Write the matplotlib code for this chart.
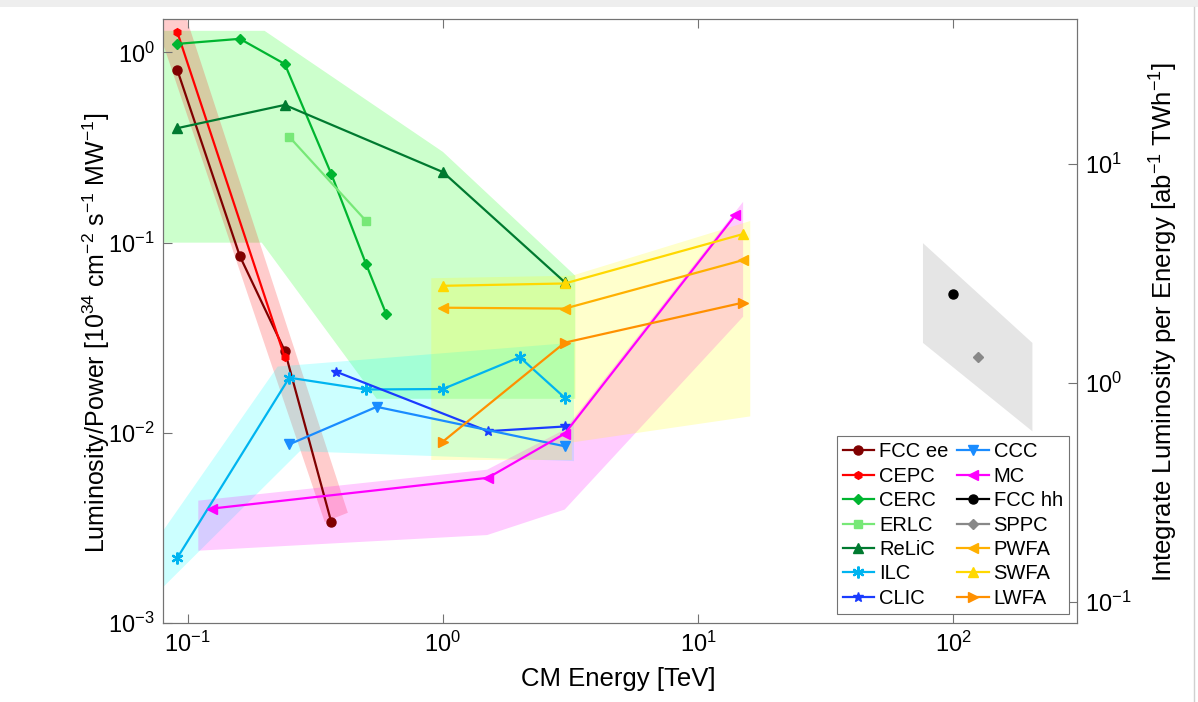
import numpy as np
import matplotlib
matplotlib.use('Agg')
import matplotlib.pyplot as plt
from matplotlib.ticker import NullLocator, LogLocator
from matplotlib.patches import Rectangle
from matplotlib.lines import Line2D

plt.rcParams['font.family'] = ['Liberation Sans', 'DejaVu Sans']
plt.rcParams['mathtext.default'] = 'regular'

# lepton colliders: CM energy [TeV] vs luminosity/power
fccee_e = [0.091, 0.16, 0.24, 0.365]
fccee_l = [0.81, 0.085, 0.027, 0.0034]
cepc_e = [0.091, 0.24]
cepc_l = [1.28, 0.025]
cerc_e = [0.091, 0.16, 0.24, 0.365, 0.5, 0.6]
cerc_l = [1.11, 1.18, 0.87, 0.23, 0.077, 0.042]
erlc_e = [0.25, 0.5]
erlc_l = [0.36, 0.13]
relic_e = [0.091, 0.24, 1.0, 3.0]
relic_l = [0.40, 0.53, 0.235, 0.062]
ilc_e = [0.091, 0.25, 0.5, 1.0, 2.0, 3.0]
ilc_l = [0.0022, 0.0195, 0.0169, 0.017, 0.025, 0.0153]
clic_e = [0.38, 1.5, 3.0]
clic_l = [0.021, 0.0102, 0.0108]
ccc_e = [0.25, 0.55, 3.0]
ccc_l = [0.0087, 0.0137, 0.0085]
mc_e = [0.125, 1.5, 3.0, 14.0]
mc_l = [0.0040, 0.0058, 0.0099, 0.14]
pwfa_e = [1.0, 3.0, 15.0]
pwfa_l = [0.0455, 0.045, 0.081]
swfa_e = [1.0, 3.0, 15.0]
swfa_l = [0.0593, 0.061, 0.111]
lwfa_e = [1.0, 3.0, 15.0]
lwfa_l = [0.009, 0.0298, 0.0484]

# hadron colliders (right axis, integrated luminosity per energy)
fcchh_e = [100.0]
fcchh_l = [2.53]
sppc_e = [125.0]
sppc_l = [1.31]

# shaded regions
band_ee_e = [0.069, 0.0924, 0.424, 0.344]
band_ee_l = [2.0, 2.0, 0.0038, 0.0034]
band_circ_e = [0.07, 0.2, 1.0, 3.3, 3.3, 0.55, 0.195, 0.07]
band_circ_l = [1.3, 1.3, 0.30, 0.067, 0.0151, 0.0151, 0.1, 0.1]
band_lin_e = [0.07, 0.225, 3.26, 3.26, 0.275, 0.07]
band_lin_l = [0.00236, 0.0223, 0.0298, 0.0071, 0.008, 0.00129]
band_mc_e = [0.11, 1.49, 3.0, 15.0, 15.0, 3.0, 1.49, 0.11]
band_mc_l = [0.0044, 0.0064, 0.0104, 0.164, 0.0408, 0.00395, 0.0029, 0.0024]
band_pl_e = [0.9, 3.2, 16.0, 16.0, 3.2, 3.2, 0.9]
band_pl_l = [0.065, 0.067, 0.13, 0.0122, 0.0089, 0.0072, 0.0072]
band_hh_e = [76.0, 204.0, 204.0, 76.0]
band_hh_l = [4.34, 1.52, 0.60, 1.52]

W, H = 1198, 702
fig = plt.figure(figsize=(W / 100, H / 100), dpi=100)
ax = fig.add_axes([163 / W, 1 - 623 / H, 914 / W, 604 / H])
ax.set_xscale('log')
ax.set_yscale('log')
ax.set_xlim(0.08, 305)
ax.set_ylim(1e-3, 1.5)

ax.fill(band_circ_e, band_circ_l, color=(0, 1, 0), alpha=0.2, lw=0, zorder=1)
ax.fill(band_ee_e, band_ee_l, color=(1, 0, 0), alpha=0.2, lw=0, zorder=1)
ax.fill(band_lin_e, band_lin_l, color=(0, 1, 1), alpha=0.2, lw=0, zorder=1)
ax.fill(band_mc_e, band_mc_l, color=(1, 0, 1), alpha=0.2, lw=0, zorder=1)
ax.fill(band_pl_e, band_pl_l, color=(1, 1, 0), alpha=0.2, lw=0, zorder=1)

lw = 1.6
ms = 6.5
asterisk = (6, 2, 0)
handles = []
handles += ax.plot(fccee_e, fccee_l, '-o', color='#800000', lw=lw, ms=ms, label='FCC ee')
handles += ax.plot(cepc_e, cepc_l, '-h', color='#ff0000', lw=lw, ms=5.5, label='CEPC')
handles += ax.plot(cerc_e, cerc_l, '-D', color='#00b530', lw=lw, ms=5.5, label='CERC')
handles += ax.plot(erlc_e, erlc_l, '-s', color='#77e877', lw=lw, ms=5.5, label='ERLC')
handles += ax.plot(relic_e, relic_l, '-^', color='#007a30', lw=lw, ms=ms, label='ReLiC')
handles += ax.plot(ilc_e, ilc_l, '-', marker=asterisk, color='#00b4f0', lw=lw, ms=8.5, mew=1.6, label='ILC')
handles += ax.plot(clic_e, clic_l, '-*', color='#1a3cff', lw=lw, ms=7.5, label='CLIC')
h_ccc = ax.plot(ccc_e, ccc_l, '-v', color='#1a8cff', lw=lw, ms=ms, label='CCC')
h_mc = ax.plot(mc_e, mc_l, '-<', color='#ff00ff', lw=lw, ms=ms, label='MC')
h_pwfa = ax.plot(pwfa_e, pwfa_l, '-<', color='#ffb000', lw=lw, ms=ms, label='PWFA')
h_swfa = ax.plot(swfa_e, swfa_l, '-^', color='#ffd800', lw=lw, ms=ms, label='SWFA')
h_lwfa = ax.plot(lwfa_e, lwfa_l, '->', color='#ff9000', lw=lw, ms=ms, label='LWFA')

ax2 = ax.twinx()
ax2.set_yscale('log')
ax2.set_ylim(0.08, 45.8)
ax2.fill(band_hh_e, band_hh_l, color='k', alpha=0.1, lw=0, zorder=1)
h_fcchh = ax2.plot(fcchh_e, fcchh_l, '-o', color='k', lw=lw, ms=ms, label='FCC hh')
h_sppc = ax2.plot(sppc_e, sppc_l, '-D', color='#888888', lw=lw, ms=5.5, label='SPPC')

handles += h_ccc + h_mc + h_fcchh + h_sppc + h_pwfa + h_swfa + h_lwfa

tick_fs = 17
for a in (ax, ax2):
    for s in a.spines.values():
        s.set_color('0.45')
        s.set_linewidth(0.8)
    a.xaxis.set_minor_locator(NullLocator())
    a.yaxis.set_minor_locator(NullLocator())

ax.yaxis.set_major_locator(LogLocator(base=10, numticks=10))
ax.tick_params(which='major', direction='in', length=6.5, width=0.8, color='0.45',
               labelsize=tick_fs, top=True, right=False, pad=6)
ax2.tick_params(which='major', direction='in', length=6.5, width=0.8, color='0.45',
                labelsize=tick_fs, pad=6)

ax.set_xlabel('CM Energy [TeV]', fontsize=18.5)
ax.xaxis.set_label_coords((618 - 163) / 914, -(667 - 623) / 604)
ax.set_ylabel(r'Luminosity/Power [10$^{34}$ cm$^{-2}$ s$^{-1}$ MW$^{-1}$]', fontsize=18)
ax.yaxis.set_label_coords(-(163 - 112) / 914, (623 - 333) / 604)
ax2.set_ylabel(r'Integrate Luminosity per Energy [ab$^{-1}$ TWh$^{-1}$]', fontsize=18.5)
ax2.yaxis.set_label_coords((1148 - 163) / 914, (623 - 322) / 604)

leg = ax2.legend(handles=handles, ncol=2, loc='lower right', bbox_to_anchor=(0.991, 0.015),
                 borderaxespad=0, fontsize=14.5, fancybox=False, framealpha=1,
                 handlelength=1.55, handletextpad=0.25, columnspacing=0.45,
                 labelspacing=0.27, borderpad=0.3)
leg.get_frame().set_edgecolor('0.45')
leg.get_frame().set_linewidth(0.8)

# screenshot edges
fig.add_artist(Rectangle((0, 1 - 7 / H), 1, 7 / H, transform=fig.transFigure,
                         color='#eeeeee', lw=0))
fig.add_artist(Line2D([1193.5 / W, 1193.5 / W], [0, 1 - 7 / H], transform=fig.transFigure,
                      color='#d0d0d0', lw=1))

fig.savefig('out.png', dpi=100)
